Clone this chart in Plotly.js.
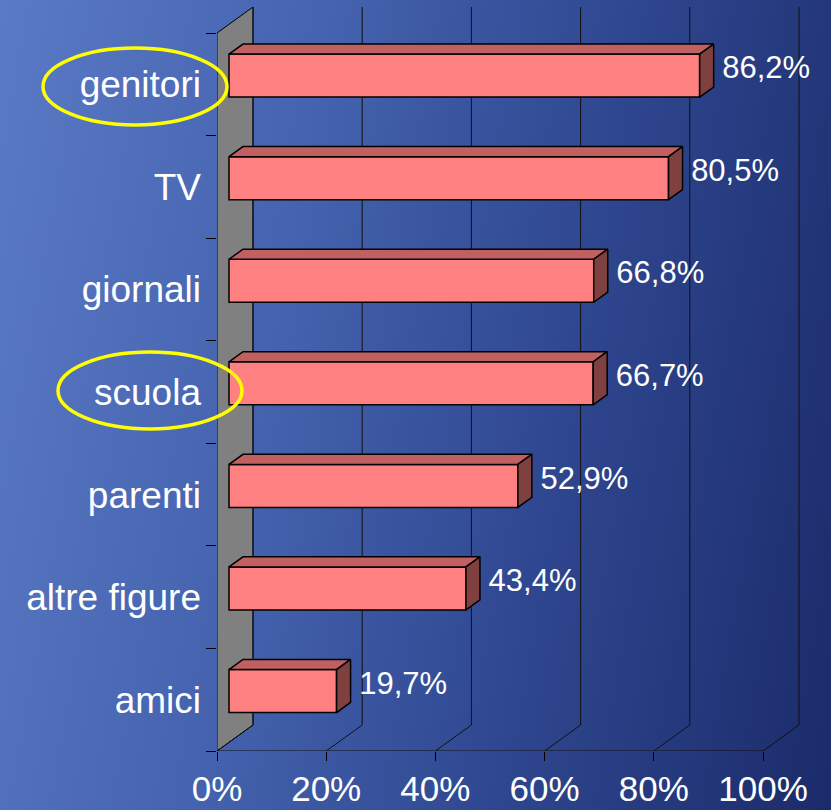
<!DOCTYPE html>
<html>
<head>
<meta charset="utf-8">
<script src="https://cdn.plot.ly/plotly-3.0.1.min.js"></script>
<style>
  html, body { margin: 0; padding: 0; }
  body {
    width: 831px; height: 810px; overflow: hidden;
    background: linear-gradient(100deg, #5b7ac6 0%, #4462ae 35%, #2f4790 65%, #1b2b6a 100%);
  }
  #chart { width: 831px; height: 810px; }
</style>
</head>
<body>
<div id="chart"></div>
<script>
// ---- data ----
const categories = ["genitori", "TV", "giornali", "scuola", "parenti", "altre figure", "amici"];
const values = [86.2, 80.5, 66.8, 66.7, 52.9, 43.4, 19.7];
const xTickVals = [0, 20, 40, 60, 80, 100];
const xTickText = ["0%", "20%", "40%", "60%", "80%", "100%"];

// ---- geometry (pixel constants for the 3-D look) ----
const W = 831, H = 810;
const M = { l: 217, r: 14, t: 7, b: 59 };
const plotW = W - M.l - M.r, plotH = H - M.t - M.b;
const pxPerX = 546 / 100;            // px per percentage point
const pxPerY = 718 / 7;              // px per category
const xMax = plotW / pxPerX;
const yMin = -0.5, yMax = yMin + plotH / pxPerY;

const backDX = 36 / pxPerX, backDY = 26 / pxPerY;     // wall / grid depth
const barDX0 = 12 / pxPerX, barDY0 = 8.67 / pxPerY;   // bar front plane offset
const barDX = 14 / pxPerX, barDY = 10.1 / pxPerY;     // bar depth
const barW = 43 / pxPerY;

const n = categories.length;
const pos = categories.map((c, i) => n - 1 - i);

const traces = [];

// wall
traces.push({
  type: 'scatter', mode: 'lines', xaxis: 'x', yaxis: 'y',
  x: [0, 0, backDX, backDX, 0], y: [yMin, n - 0.5, n - 0.5 + backDY, yMin + backDY, yMin],
  fill: 'toself', fillcolor: '#808080', line: { color: '#000', width: 1 },
  hoverinfo: 'skip', showlegend: false, cliponaxis: false
});

// grid lines (floor diagonals + back verticals) and front floor edge
const gx = [], gy = [];
xTickVals.forEach(t => {
  gx.push(t, t + backDX, t + backDX, null);
  gy.push(yMin, yMin + backDY, n - 0.5 + backDY, null);
});
gx.push(0, 100, null); gy.push(yMin, yMin, null);
traces.push({
  type: 'scatter', mode: 'lines', xaxis: 'x', yaxis: 'y',
  x: gx, y: gy, line: { color: '#111', width: 1 }, connectgaps: false,
  hoverinfo: 'skip', showlegend: false, cliponaxis: false
});

// empty trace so the boundary-tick axis is drawn
traces.push({
  type: 'scatter', mode: 'markers', xaxis: 'x', yaxis: 'y3',
  x: [null], y: [null], hoverinfo: 'skip', showlegend: false
});

// bars: front face
traces.push({
  type: 'bar', orientation: 'h', xaxis: 'x2', yaxis: 'y2',
  x: values, y: pos, width: barW,
  marker: { color: '#FF8080', line: { color: '#000', width: 1.5 } },
  hoverinfo: 'skip', showlegend: false, cliponaxis: false
});

// bars: top faces and side faces
const tx = [], ty = [], sx = [], sy = [];
values.forEach((v, i) => {
  const top = pos[i] + barW / 2, bot = pos[i] - barW / 2;
  tx.push(0, v, v + barDX, barDX, 0, null);
  ty.push(top, top, top + barDY, top + barDY, top, null);
  sx.push(v, v + barDX, v + barDX, v, v, null);
  sy.push(top, top + barDY, bot + barDY, bot, top, null);
});
traces.push({
  type: 'scatter', mode: 'lines', xaxis: 'x2', yaxis: 'y2',
  x: tx, y: ty, fill: 'toself', fillcolor: '#C06060',
  line: { color: '#000', width: 1.5 }, hoverinfo: 'skip', showlegend: false, cliponaxis: false
});
traces.push({
  type: 'scatter', mode: 'lines', xaxis: 'x2', yaxis: 'y2',
  x: sx, y: sy, fill: 'toself', fillcolor: '#804040',
  line: { color: '#000', width: 1.5 }, hoverinfo: 'skip', showlegend: false, cliponaxis: false
});

// value labels
traces.push({
  type: 'scatter', mode: 'text', xaxis: 'x2', yaxis: 'y2',
  x: values.map(v => v + barDX), y: pos.map(p => p + barDY / 2),
  text: values.map(v => ' ' + v.toFixed(1).replace('.', ',') + '%'),
  textposition: 'middle right',
  textfont: { family: 'Liberation Sans, Arial, sans-serif', size: 31, color: '#fff' },
  hoverinfo: 'skip', showlegend: false, cliponaxis: false
});

const fontFam = 'Liberation Sans, Arial, sans-serif';
const layout = {
  width: W, height: H,
  margin: M,
  paper_bgcolor: 'rgba(0,0,0,0)', plot_bgcolor: 'rgba(0,0,0,0)',
  showlegend: false,
  xaxis: {
    range: [0, xMax], tickmode: 'array', tickvals: xTickVals, ticktext: xTickText,
    ticks: 'outside', ticklen: 9, tickcolor: '#000', tickwidth: 1,
    ticklabelstandoff: -2,
    showgrid: false, zeroline: false, showline: false,
    tickfont: { family: fontFam, size: 35, color: '#fff' }, fixedrange: true
  },
  yaxis: {
    range: [yMin, yMax], tickmode: 'array', tickvals: pos, ticktext: categories,
    ticks: '', ticklabelstandoff: 15,
    showgrid: false, zeroline: false, showline: false,
    tickfont: { family: fontFam, size: 37, color: '#fff' }, fixedrange: true
  },
  yaxis3: {
    overlaying: 'y', side: 'left', anchor: 'x',
    range: [yMin, yMax], tickmode: 'array',
    tickvals: Array.from({ length: n + 1 }, (_, k) => k - 0.5),
    ticks: 'outside', ticklen: 10, tickcolor: '#000', tickwidth: 1,
    showticklabels: false, showgrid: false, zeroline: false, showline: false, fixedrange: true
  },
  xaxis2: {
    overlaying: 'x', range: [-barDX0, xMax - barDX0], visible: false, fixedrange: true
  },
  yaxis2: {
    overlaying: 'y', range: [yMin - barDY0, yMax - barDY0], visible: false, fixedrange: true
  },
  shapes: [
    { type: 'circle', xref: 'paper', yref: 'paper', layer: 'above',
      x0: (43 - M.l) / plotW, x1: (227 - M.l) / plotW,
      y0: (751 - 125) / plotH, y1: (751 - 48) / plotH,
      line: { color: '#FFFF00', width: 3.5 } },
    { type: 'circle', xref: 'paper', yref: 'paper', layer: 'above',
      x0: (58 - M.l) / plotW, x1: (242 - M.l) / plotW,
      y0: (751 - 429) / plotH, y1: (751 - 352) / plotH,
      line: { color: '#FFFF00', width: 3.5 } }
  ]
};

Plotly.newPlot('chart', traces, layout, { displayModeBar: false, staticPlot: true });
</script>
</body>
</html>
